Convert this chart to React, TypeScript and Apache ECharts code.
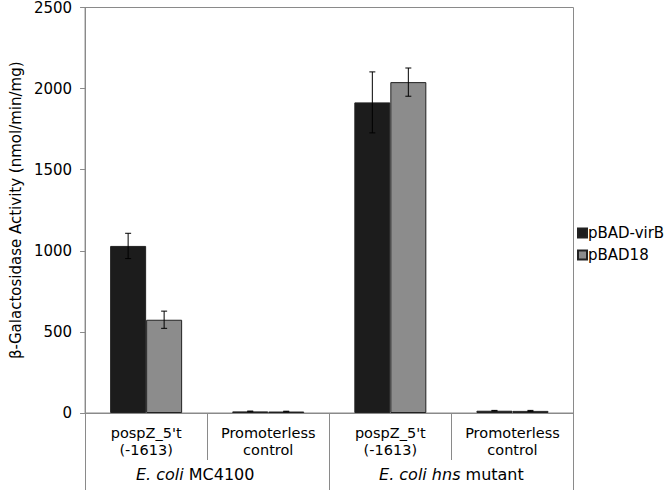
import React, { useEffect, useRef } from "react";
import * as echarts from "echarts";

const categories = ["pospZ_5't\n(-1613)", "Promoterless\ncontrol", "pospZ_5't\n(-1613)", "Promoterless\ncontrol"];
const groups = ["{i|E. coli} MC4100", "{i|E. coli hns} mutant"];
const seriesNames = ["pBAD-virB", "pBAD18"];
const virBValues = [1030, 10, 1915, 14];
const virBErrors = [78, 2, 188, 2];
const pbad18Values = [575, 9, 2040, 13];
const pbad18Errors = [53, 2, 87, 3];
const yTicks = [0, 500, 1000, 1500, 2000, 2500];

const FONT = "DejaVu Sans";
const BAR_W = 36;
const AXIS_GRAY = "#8a8a8a";
const TEXT = "#000";

export default function App() {
  const ref = useRef<HTMLDivElement>(null);
  useEffect(() => {
    if (!ref.current) return;
    const chart = echarts.init(ref.current, undefined, { renderer: "svg" });
    const errSeries = (vals: number[], errs: number[], offset: number) => ({
      type: "custom",
      xAxisIndex: 0,
      yAxisIndex: 0,
      silent: true,
      z: 5,
      data: vals.map((v, i) => [i, v, errs[i]]),
      encode: { x: 0, y: 1 },
      renderItem: (params: any, api: any) => {
        const i = api.value(0);
        const v = api.value(1);
        const e = api.value(2);
        const c = api.coord([i, v]);
        const x = c[0] + offset;
        const top = api.coord([i, v + e])[1];
        const bot = api.coord([i, v - e])[1];
        const st = { stroke: "#000", lineWidth: 1 };
        return {
          type: "group",
          children: [
            { type: "line", shape: { x1: x, y1: top, x2: x, y2: bot }, style: st },
            { type: "line", shape: { x1: x - 3, y1: top, x2: x + 3, y2: top }, style: st },
            { type: "line", shape: { x1: x - 3, y1: bot, x2: x + 3, y2: bot }, style: st },
          ],
        };
      },
    });
    chart.setOption({
      animation: false,
      textStyle: { fontFamily: FONT },
      grid: {
        left: 71.5,
        right: 92.5,
        top: 7,
        bottom: 77,
        show: true,
        borderColor: AXIS_GRAY,
        borderWidth: 1,
        backgroundColor: "transparent",
      },
      legend: {
        orient: "vertical",
        left: 577,
        top: 225,
        padding: 0,
        itemWidth: 9,
        itemHeight: 9,
        itemGap: 6,
        icon: "rect",
        data: seriesNames,
        textStyle: {
          fontFamily: FONT,
          fontSize: 15,
          lineHeight: 16,
          color: TEXT,
          padding: [0, 0, 0, -4],
        },
      },
      xAxis: [
        {
          type: "category",
          data: categories,
          position: "bottom",
          axisLine: { show: true, lineStyle: { color: AXIS_GRAY, width: 1 } },
          axisTick: { show: true, interval: 0, length: 47, lineStyle: { color: AXIS_GRAY } },
          axisLabel: {
            interval: 0,
            margin: 11,
            fontFamily: FONT,
            fontSize: 14.5,
            lineHeight: 17,
            color: TEXT,
          },
        },
        {
          type: "category",
          data: groups,
          position: "bottom",
          axisLine: { show: false },
          axisTick: { show: true, interval: 0, length: 77, lineStyle: { color: AXIS_GRAY } },
          axisLabel: {
            interval: 0,
            margin: 53,
            fontFamily: FONT,
            fontSize: 16,
            color: TEXT,
            formatter: (s: string, idx: number) => (idx === 0 ? s + "{sp|}" : s),
            rich: {
              i: { fontStyle: "italic", fontFamily: FONT, fontSize: 16, color: TEXT },
              sp: { width: 24 },
            },
          },
        },
      ],
      yAxis: {
        type: "value",
        min: yTicks[0],
        max: yTicks[yTicks.length - 1],
        interval: 500,
        name: "β-Galactosidase Activity (nmol/min/mg)",
        nameLocation: "middle",
        nameGap: 45,
        nameTextStyle: { fontFamily: FONT, fontSize: 15, color: TEXT },
        axisLine: { show: true, lineStyle: { color: AXIS_GRAY, width: 1 } },
        axisTick: { show: true, length: 5, lineStyle: { color: AXIS_GRAY } },
        splitLine: { show: false },
        axisLabel: {
          margin: 13,
          fontFamily: FONT,
          fontSize: 15,
          color: TEXT,
          formatter: (v: number) => String(v),
        },
      },
      series: [
        {
          name: seriesNames[0],
          type: "bar",
          data: virBValues,
          barWidth: BAR_W,
          barGap: "0%",
          itemStyle: { color: "#1c1c1c", borderColor: "#222", borderWidth: 1 },
        },
        {
          name: seriesNames[1],
          type: "bar",
          data: pbad18Values,
          barWidth: BAR_W,
          barGap: "0%",
          itemStyle: { color: "#8c8c8c", borderColor: "#222", borderWidth: 1 },
        },
        errSeries(virBValues, virBErrors, -BAR_W / 2),
        errSeries(pbad18Values, pbad18Errors, BAR_W / 2),
      ],
    });
    return () => chart.dispose();
  }, []);
  return (
    <div
      ref={ref}
      style={{ position: "fixed", left: 0, top: 0, width: 666, height: 490, background: "#fff" }}
    />
  );
}
